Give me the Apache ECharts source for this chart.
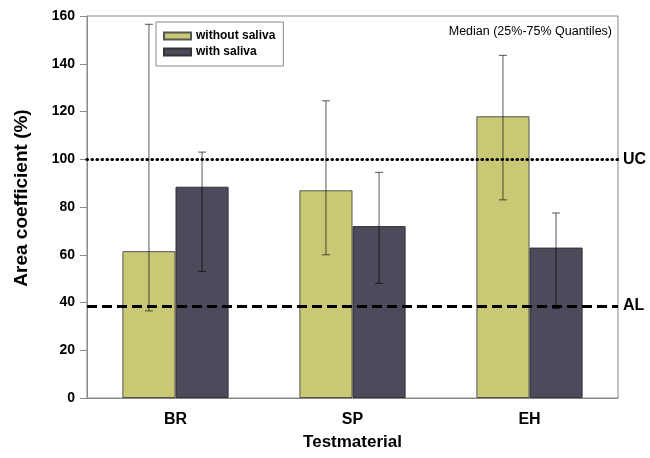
<!DOCTYPE html>
<html>
<head>
<meta charset="utf-8">
<script src="https://cdn.jsdelivr.net/npm/echarts@6/dist/echarts.min.js"></script>
<style>html,body{margin:0;padding:0;background:#fff;}#c{width:650px;height:458px;}</style>
</head>
<body>
<div id="c"></div>
<script>
var categories = ['BR', 'SP', 'EH'];
var withoutSaliva = [61.5, 87, 118];
var withSaliva = [88.5, 72, 63];
var withoutLow = [36.5, 60, 83];
var withoutHigh = [156.5, 124.5, 143.5];
var withLow = [53, 48, 37.5];
var withHigh = [103, 94.5, 77.5];
var ucValue = 100;
var alValue = 38.5;
var yTicks = [0, 20, 40, 60, 80, 100, 120, 140, 160];

var FONT = 'Arial, "Liberation Sans", sans-serif';

function errData(low, high) {
  return categories.map(function (c, i) { return [i, low[i], high[i]]; });
}

function errRender(sign) {
  return function (params, api) {
    var i = api.value(0);
    var bw = api.size([1, 0])[0];
    var barW = bw * 0.3;
    var off = sign * barW / 2;
    var top = api.coord([i, api.value(2)]);
    var bot = api.coord([i, api.value(1)]);
    var x = top[0] + off;
    var cap = 4;
    var st = { stroke: 'rgba(0,0,0,0.55)', lineWidth: 1.2 };
    return {
      type: 'group',
      children: [
        { type: 'line', shape: { x1: x, y1: top[1], x2: x, y2: bot[1] }, style: st },
        { type: 'line', shape: { x1: x - cap, y1: top[1], x2: x + cap, y2: top[1] }, style: st },
        { type: 'line', shape: { x1: x - cap, y1: bot[1], x2: x + cap, y2: bot[1] }, style: st }
      ]
    };
  };
}

var chart = echarts.init(document.getElementById('c'), null, { renderer: 'canvas' });
chart.setOption({
  animation: false,
  backgroundColor: '#fff',
  textStyle: { fontFamily: FONT },
  grid: { left: 87, right: 32, top: 16, bottom: 60, show: true, borderColor: '#888', borderWidth: 1 },
  legend: {
    left: 156, top: 22,
    orient: 'vertical',
    data: ['without saliva', 'with saliva'],
    icon: 'rect',
    itemWidth: 27, itemHeight: 7,
    itemGap: 4,
    padding: [8, 8, 8, 7],
    borderColor: '#888', borderWidth: 1,
    textStyle: { fontFamily: FONT, fontWeight: 'bold', fontSize: 12, color: '#000' }
  },
  graphic: [{
    type: 'text', right: 38, top: 25,
    style: { text: 'Median (25%-75% Quantiles)', font: '12.5px ' + FONT, fill: '#000' }
  }],
  xAxis: {
    type: 'category',
    data: categories,
    axisLine: { lineStyle: { color: '#888', width: 1 } },
    axisTick: { alignWithLabel: true, length: 6, lineStyle: { color: '#888' } },
    axisLabel: { margin: 14, fontSize: 16, fontWeight: 'bold', color: '#000', fontFamily: FONT },
    name: 'Testmaterial',
    nameLocation: 'middle',
    nameGap: 36,
    nameTextStyle: { fontSize: 17, fontWeight: 'bold', color: '#000', fontFamily: FONT }
  },
  yAxis: {
    type: 'value',
    min: 0, max: 160, interval: 20,
    splitLine: { show: false },
    axisLine: { show: true, lineStyle: { color: '#888', width: 1 } },
    axisTick: { show: true, length: 7, lineStyle: { color: '#888' } },
    axisLabel: { margin: 12, fontSize: 14, fontWeight: 'bold', color: '#000', fontFamily: FONT,
      formatter: function (v) { return yTicks.indexOf(v) >= 0 ? String(v) : ''; } },
    name: 'Area coefficient (%)',
    nameLocation: 'middle',
    nameGap: 56,
    nameTextStyle: { fontSize: 19, fontWeight: 'bold', color: '#000', fontFamily: FONT, padding: [0, 0, 0, 18] }
  },
  series: [
    {
      name: 'without saliva', type: 'bar', data: withoutSaliva,
      barGap: '0%', barCategoryGap: '40%',
      itemStyle: { color: '#c9c975', borderColor: '#555', borderWidth: 1 },
      markLine: {
        silent: true, symbol: 'none', z: 10,
        data: [
          { yAxis: ucValue, label: { formatter: 'UC' },
            lineStyle: { type: [0.5, 4.5], cap: 'round', width: 3.2, color: '#000' } },
          { yAxis: alValue, label: { formatter: 'AL' },
            lineStyle: { type: [10, 5], width: 2.8, color: '#000' } }
        ],
        label: { position: 'end', distance: 5, fontSize: 16, fontWeight: 'bold', color: '#000', fontFamily: FONT }
      }
    },
    {
      name: 'with saliva', type: 'bar', data: withSaliva,
      barGap: '0%', barCategoryGap: '40%',
      itemStyle: { color: '#4b4b5b', borderColor: '#333', borderWidth: 1 }
    },
    {
      type: 'custom', name: 'errWithout', data: errData(withoutLow, withoutHigh),
      renderItem: errRender(-1), z: 5, silent: true
    },
    {
      type: 'custom', name: 'errWith', data: errData(withLow, withHigh),
      renderItem: errRender(1), z: 5, silent: true
    }
  ]
});
</script>
</body>
</html>
